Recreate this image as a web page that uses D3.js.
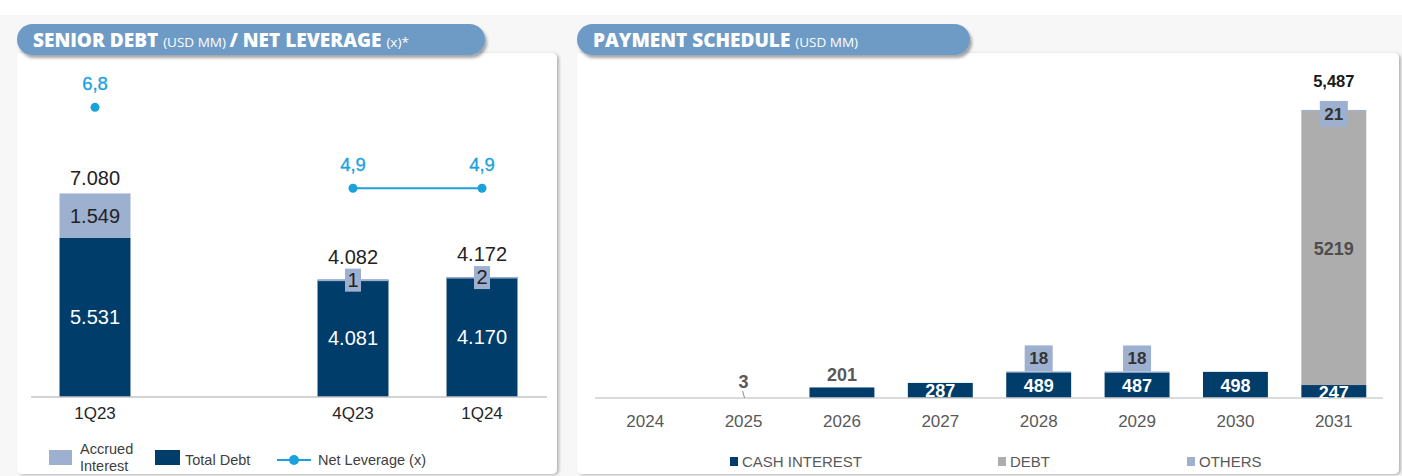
<!DOCTYPE html>
<meta charset="utf-8">
<script src="https://d3js.org/d3.v7.min.js"></script>
<style>
  body { margin: 0; background: #fff; }
  text { font-family: "Liberation Sans", Arial, sans-serif; }
  .narrow { font-family: "Liberation Sans Narrow", "Liberation Sans", sans-serif; }
  .title { font-family: "Open Sans", "Liberation Sans", sans-serif; fill: #fff; }
</style>
<div id="chart"></div>
<script>
// ---- left chart data (senior debt / net leverage)
var quarters = ["1Q23", " ", "4Q23", "1Q24"];   // blank slot keeps the gap
var totalDebt = [5531, null, 4081, 4170];
var accruedInterest = [1549, null, 1, 2];
var netLeverage = [6.8, null, 4.9, 4.9];

// ---- right chart data (payment schedule)
var years = ["2024", "2025", "2026", "2027", "2028", "2029", "2030", "2031"];
var cashInterest = [0, 3, 201, 287, 489, 487, 498, 247];
var debt = [0, 0, 0, 0, 0, 0, 0, 5219];
var others = [0, 0, 0, 0, 18, 18, 0, 21];

var navy = "#003d6b", lightBlue = "#9eb0cf", grey = "#adadad", sky = "#1ba1dc";

var ptBR = d3.formatLocale({decimal: ",", thousands: ".", grouping: [3], currency: ["", ""]});
var fmtDot = ptBR.format(",d"), fmtLev = ptBR.format(".1f");
var fmtComma = d3.format(",d");

var svg = d3.select("#chart").append("svg")
    .attr("width", 1402).attr("height", 476);

var defs = svg.append("defs");
var f = defs.append("filter").attr("id", "shadow").attr("x", "-5%").attr("y", "-5%")
    .attr("width", "110%").attr("height", "115%");
f.append("feDropShadow").attr("dx", 2).attr("dy", 1).attr("stdDeviation", 1.6)
    .attr("flood-color", "#000").attr("flood-opacity", 0.28);
var f2 = defs.append("filter").attr("id", "pillshadow").attr("x", "-5%").attr("y", "-20%")
    .attr("width", "110%").attr("height", "160%");
f2.append("feDropShadow").attr("dx", 2).attr("dy", 3).attr("stdDeviation", 1.8)
    .attr("flood-color", "#000").attr("flood-opacity", 0.35);

// page background
svg.append("rect").attr("x", 0).attr("y", 15).attr("width", 1402).attr("height", 461).attr("fill", "#f7f7f7");

// cards
svg.append("rect").attr("x", 17).attr("y", 53).attr("width", 540).attr("height", 421)
    .attr("rx", 5).attr("fill", "#fff").attr("filter", "url(#shadow)");
svg.append("rect").attr("x", 577).attr("y", 53).attr("width", 822).attr("height", 421)
    .attr("rx", 5).attr("fill", "#fff").attr("filter", "url(#shadow)");

// title pills
function pill(x, w, parts) {
  svg.append("rect").attr("x", x).attr("y", 24).attr("width", w).attr("height", 31)
      .attr("rx", 15.5).attr("fill", "#6e9bc6").attr("filter", "url(#pillshadow)");
  var t = svg.append("text").attr("class", "title").attr("x", x + 16).attr("y", 46.5);
  parts.forEach(function(p) {
    t.append("tspan").text(p[0])
      .attr("font-size", p[1] ? "19px" : "13.5px")
      .attr("font-weight", p[1] ? 800 : 400);
  });
}
pill(17, 468, [["SENIOR DEBT ", true], ["(USD MM) ", false], ["/ NET LEVERAGE ", true], ["(x)*", false]]);
pill(577, 393, [["PAYMENT SCHEDULE ", true], ["(USD MM)", false]]);

// ================= LEFT CHART =================
var xL = d3.scaleBand().domain(quarters).range([30.5, 546.5]).paddingInner(0.45).paddingOuter(0.225);
var yL = d3.scaleLinear().domain([0, 10000]).range([397, 109.5]);
var yLev = d3.scaleLinear().domain([0, 7]).range([397, 98.8]);

var left = svg.append("g");
var rowsL = quarters.map(function(q, i) {
  return {q: q, debt: totalDebt[i], acc: accruedInterest[i], lev: netLeverage[i]};
}).filter(function(d) { return d.debt !== null; });

left.selectAll(".debt").data(rowsL).enter().append("rect")
    .attr("x", function(d) { return xL(d.q); })
    .attr("width", xL.bandwidth())
    .attr("y", function(d) { return yL(d.debt); })
    .attr("height", function(d) { return yL(0) - yL(d.debt); })
    .attr("fill", navy);
left.selectAll(".acc").data(rowsL).enter().append("rect")
    .attr("x", function(d) { return xL(d.q); })
    .attr("width", xL.bandwidth())
    .attr("y", function(d) { return yL(d.debt + d.acc); })
    .attr("height", function(d) { return Math.max(1.5, yL(d.debt) - yL(d.debt + d.acc)); })
    .attr("fill", lightBlue);

// axis
left.append("g").attr("transform", "translate(0,397)")
    .call(d3.axisBottom(xL).tickSize(0).tickFormat(function(d) { return d.trim(); }))
    .call(function(g) {
      g.select(".domain").attr("stroke", "#c4c4c4").attr("stroke-width", 1.5).attr("d", "M31,0H547");
      g.selectAll("text").attr("dy", 0).attr("y", 22).attr("font-size", "17px").attr("fill", "#262626")
        .attr("font-family", "Liberation Sans");
    });

// labels inside debt
left.selectAll(".ldebt").data(rowsL).enter().append("text")
    .attr("x", function(d) { return xL(d.q) + xL.bandwidth() / 2; })
    .attr("y", function(d) { return (yL(0) + yL(d.debt)) / 2 + 7; })
    .attr("text-anchor", "middle").attr("font-size", "20px").attr("fill", "#fff")
    .text(function(d) { return fmtDot(d.debt); });

// accrued labels: inside when big, boxed when tiny; totals above
rowsL.forEach(function(d) {
  var cx = xL(d.q) + xL.bandwidth() / 2;
  var top = yL(d.debt + d.acc);
  var cy = (yL(d.debt) + top) / 2;
  var totalY = top - 8;
  if (yL(d.debt) - top < 20) {
    left.append("rect").attr("x", cx - 8).attr("y", cy - 11).attr("width", 16).attr("height", 23)
        .attr("fill", lightBlue);
    totalY = cy - 16;
  }
  left.append("text").attr("x", cx).attr("y", cy + 7)
      .attr("text-anchor", "middle").attr("font-size", "20px").attr("fill", "#222")
      .text(fmtDot(d.acc));
  left.append("text").attr("x", cx).attr("y", totalY)
      .attr("text-anchor", "middle").attr("font-size", "20px").attr("fill", "#222")
      .text(fmtDot(d.debt + d.acc));
});

// net leverage line
var levLine = d3.line()
    .defined(function(d) { return d.lev !== null; })
    .x(function(d) { return xL(d.q) + xL.bandwidth() / 2; })
    .y(function(d) { return yLev(d.lev); });
var levRows = quarters.map(function(q, i) { return {q: q, lev: netLeverage[i]}; });
left.append("path").datum(levRows).attr("d", levLine)
    .attr("fill", "none").attr("stroke", sky).attr("stroke-width", 2);
var levPts = levRows.filter(function(d) { return d.lev !== null; });
left.selectAll(".dot").data(levPts).enter().append("circle")
    .attr("cx", function(d) { return xL(d.q) + xL.bandwidth() / 2; })
    .attr("cy", function(d) { return yLev(d.lev); })
    .attr("r", 4.5).attr("fill", sky);
left.selectAll(".levlab").data(levPts).enter().append("text")
    .attr("x", function(d) { return xL(d.q) + xL.bandwidth() / 2; })
    .attr("y", function(d) { return yLev(d.lev) - 17; })
    .attr("text-anchor", "middle").attr("font-size", "18.5px").attr("fill", sky)
    .attr("stroke", sky).attr("stroke-width", 0.3)
    .text(function(d) { return fmtLev(d.lev); });

// left legend
var lg = svg.append("g").attr("font-size", "14.5px");
lg.append("rect").attr("x", 49).attr("y", 450).attr("width", 23).attr("height", 15).attr("fill", lightBlue);
lg.append("text").attr("x", 80).attr("y", 454).attr("fill", "#404040").text("Accrued");
lg.append("text").attr("x", 80).attr("y", 471).attr("fill", "#404040").text("Interest");
lg.append("rect").attr("x", 155).attr("y", 450).attr("width", 25).attr("height", 15).attr("fill", navy);
lg.append("text").attr("x", 185).attr("y", 465).attr("fill", "#404040").text("Total Debt");
lg.append("line").attr("x1", 277).attr("x2", 311).attr("y1", 460).attr("y2", 460)
    .attr("stroke", sky).attr("stroke-width", 2);
lg.append("circle").attr("cx", 294).attr("cy", 460).attr("r", 5).attr("fill", sky);
lg.append("text").attr("x", 318).attr("y", 465).attr("fill", "#404040").text("Net Leverage (x)");

// ================= RIGHT CHART =================
var xR = d3.scaleBand().domain(years).range([596, 1383]).paddingInner(0.34).paddingOuter(0.17);
var yR = d3.scaleLinear().domain([0, 6000]).range([398, 83]);
var right = svg.append("g");

defs.append("clipPath").attr("id", "clipR").append("rect")
    .attr("x", 590).attr("y", 60).attr("width", 800).attr("height", 338);

var rowsR = years.map(function(y, i) {
  return {y: y, cash: cashInterest[i], debt: debt[i], oth: others[i]};
});

right.selectAll(".cash").data(rowsR).enter().append("rect")
    .attr("x", function(d) { return xR(d.y); })
    .attr("width", xR.bandwidth())
    .attr("y", function(d) { return yR(d.cash); })
    .attr("height", function(d) { return d.cash > 10 ? yR(0) - yR(d.cash) : 0; })
    .attr("fill", navy);
right.selectAll(".debt").data(rowsR).enter().append("rect")
    .attr("x", function(d) { return xR(d.y); })
    .attr("width", xR.bandwidth())
    .attr("y", function(d) { return yR(d.cash + d.debt); })
    .attr("height", function(d) { return yR(d.cash) - yR(d.cash + d.debt); })
    .attr("fill", grey);
right.selectAll(".oth").data(rowsR.filter(function(d) { return d.oth > 0; })).enter().append("rect")
    .attr("x", function(d) { return xR(d.y); })
    .attr("width", xR.bandwidth())
    .attr("y", function(d) { return yR(d.cash + d.debt + d.oth); })
    .attr("height", function(d) { return yR(d.cash + d.debt) - yR(d.cash + d.debt + d.oth); })
    .attr("fill", lightBlue);

right.append("g").attr("transform", "translate(0,398)")
    .call(d3.axisBottom(xR).tickSize(0))
    .call(function(g) {
      g.select(".domain").attr("stroke", "#cfcfcf").attr("stroke-width", 1.5).attr("d", "M595,0H1383");
      g.selectAll("text").attr("class", "narrow").attr("dy", 0).attr("y", 29)
        .attr("font-size", "17px").attr("fill", "#595959");
    });

var labR = right.append("g").attr("class", "narrow").attr("text-anchor", "middle");
rowsR.forEach(function(d) {
  var cx = xR(d.y) + xR.bandwidth() / 2;
  var h = yR(0) - yR(d.cash);
  if (d.cash > 0) {
    if (h >= 12) {
      labR.append("text").attr("x", cx).attr("y", (yR(0) + yR(d.cash)) / 2 + 7)
          .attr("clip-path", "url(#clipR)")
          .attr("font-size", "18px").attr("font-weight", "bold").attr("fill", "#fff")
          .text(d.cash);
    } else {
      if (h < 3) {
        labR.append("line").attr("x1", cx - 1).attr("x2", cx + 1).attr("y1", 391).attr("y2", 398)
            .attr("stroke", "#8c8c8c").attr("stroke-width", 1);
      }
      labR.append("text").attr("x", cx).attr("y", yR(d.cash) - (h < 3 ? 10 : 6))
          .attr("font-size", "18px").attr("font-weight", "bold").attr("fill", "#595959")
          .text(d.cash);
    }
  }
  if (d.debt > 0) {
    labR.append("text").attr("x", cx).attr("y", (yR(d.cash) + yR(d.cash + d.debt)) / 2 + 7)
        .attr("font-size", "18px").attr("font-weight", "bold").attr("fill", "#4d4d4d")
        .text(d.debt);
  }
  if (d.oth > 0) {
    var top = yR(d.cash + d.debt + d.oth);
    var by = d.debt > 0 ? top - 9 : top - 26;   // boxed label
    labR.append("rect").attr("x", cx - 14).attr("y", by).attr("width", 28).attr("height", 26)
        .attr("fill", lightBlue);
    labR.append("text").attr("x", cx).attr("y", by + 19)
        .attr("font-size", "17px").attr("font-weight", "bold").attr("fill", "#333")
        .text(d.oth);
  }
  if (d.debt > 0) {
    labR.append("text").attr("x", cx).attr("y", 87)
        .attr("font-size", "16.5px").attr("font-weight", "bold").attr("fill", "#1a1a1a")
        .text(fmtComma(d.cash + d.debt + d.oth));
  }
});

// right legend
var rl = svg.append("g").attr("class", "narrow").attr("font-size", "15px");
[["CASH INTEREST", navy, 730], ["DEBT", grey, 998], ["OTHERS", lightBlue, 1187]].forEach(function(e) {
  rl.append("rect").attr("x", e[2]).attr("y", 457).attr("width", 8).attr("height", 9).attr("fill", e[1]);
  rl.append("text").attr("class", "narrow").attr("x", e[2] + 12).attr("y", 467).attr("fill", "#595959").text(e[0]);
});
</script>
